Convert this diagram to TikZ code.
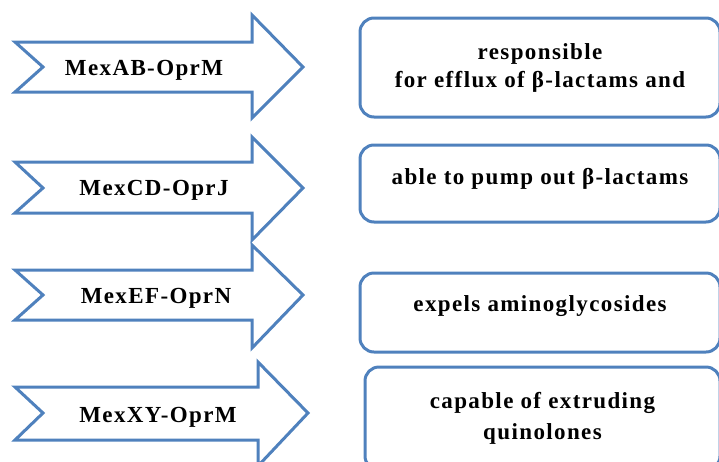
\documentclass[tikz,border=0pt]{standalone}
\usepackage{fontspec}
\setmainfont{Liberation Serif}[LetterSpace=6]

\definecolor{pumpblue}{HTML}{4F81BD}

\begin{document}
\begin{tikzpicture}[x=1pt, y=-1pt,
pumparrow/.style = {draw=pumpblue, line width=3pt, fill=white},
pumpname/.style = {font=\bfseries\fontsize{23}{28}\selectfont, inner sep=0pt},
role/.style = {draw=pumpblue, line width=3pt, rounded corners=14pt, fill=white,
  align=center, font=\bfseries\fontsize{23}{28}\selectfont, minimum width=360pt},
]

\useasboundingbox (0,0) rectangle (719,461);
\clip (0,0) rectangle (719,461);

% Draw arrows
\draw[pumparrow] (15,42) -- (43,67) -- (15,92) -- (252,92) -- (252,118) -- (303,67) -- (252,15) -- (252,42) -- cycle;
\draw[pumparrow] (15,162) -- (43,188) -- (15,213) -- (252,213) -- (252,240) -- (303,188) -- (252,137) -- (252,162) -- cycle;
\draw[pumparrow] (15,270) -- (43,295) -- (15,320) -- (252,320) -- (252,348) -- (303,295) -- (252,245) -- (252,270) -- cycle;
\draw[pumparrow] (15,387) -- (43,413) -- (15,440) -- (258,440) -- (258,466) -- (308,413) -- (258,362) -- (258,387) -- cycle;

% Name the pumps
\node[pumpname] (mexab) at (144,70) {MexAB-OprM};
\node[pumpname] (mexcd) at (154,190) {MexCD-OprJ};
\node[pumpname] (mexef) at (156,298) {MexEF-OprN};
\node[pumpname] (mexxy) at (158,417) {MexXY-OprM};

% Draw boxes
\node[role, minimum height=99pt] (effluxab) at (540,67.5) {responsible\\for efflux of β-lactams and};
\node[role, minimum height=77pt, text depth=15pt] (effluxcd) at (540,183.5) {able to pump out β-lactams};
\node[role, minimum height=79pt, text depth=17pt] (effluxef) at (540,312.5) {expels aminoglycosides};
\node[role, minimum height=103pt, minimum width=355pt] (effluxxy) at (542.5,418.5) {capable of extruding\\[3pt]quinolones};

\end{tikzpicture}
\end{document}
